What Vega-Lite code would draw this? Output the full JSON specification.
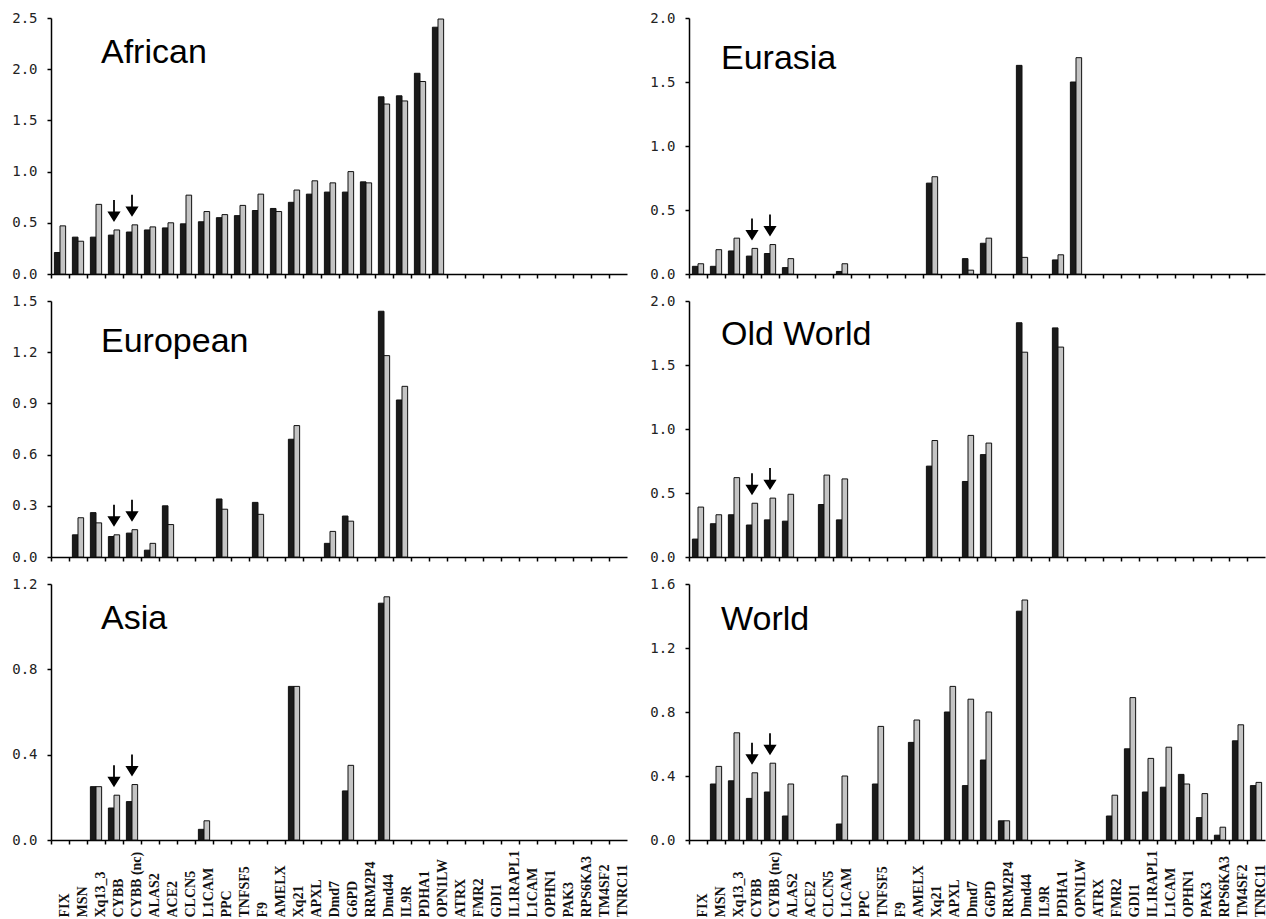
{
  "$schema": "https://vega.github.io/schema/vega-lite/v6.json",
  "padding": {"left": 11, "top": 11, "right": 0, "bottom": 0},
  "config": {
    "view": {"stroke": null},
    "axis": {"grid": false, "domainColor": "#000", "tickColor": "#000", "domainWidth": 1.5, "tickWidth": 1.5, "tickSize": 4},
    "axisY": {"labelFont": "DejaVu Sans Mono", "labelFontSize": 14, "labelColor": "#222", "labelPadding": 10}
  },
  "data": {"values": [
    {"p":"African","g":"FIX","s":"a","v":0.21},{"p":"African","g":"FIX","s":"b","v":0.47},
    {"p":"African","g":"MSN","s":"a","v":0.36},{"p":"African","g":"MSN","s":"b","v":0.32},
    {"p":"African","g":"Xq13_3","s":"a","v":0.36},{"p":"African","g":"Xq13_3","s":"b","v":0.68},
    {"p":"African","g":"CYBB","s":"a","v":0.38},{"p":"African","g":"CYBB","s":"b","v":0.43},
    {"p":"African","g":"CYBB (nc)","s":"a","v":0.41},{"p":"African","g":"CYBB (nc)","s":"b","v":0.48},
    {"p":"African","g":"ALAS2","s":"a","v":0.43},{"p":"African","g":"ALAS2","s":"b","v":0.46},
    {"p":"African","g":"ACE2","s":"a","v":0.45},{"p":"African","g":"ACE2","s":"b","v":0.50},
    {"p":"African","g":"CLCN5","s":"a","v":0.49},{"p":"African","g":"CLCN5","s":"b","v":0.77},
    {"p":"African","g":"L1CAM","s":"a","v":0.51},{"p":"African","g":"L1CAM","s":"b","v":0.61},
    {"p":"African","g":"PPC","s":"a","v":0.55},{"p":"African","g":"PPC","s":"b","v":0.58},
    {"p":"African","g":"TNFSF5","s":"a","v":0.57},{"p":"African","g":"TNFSF5","s":"b","v":0.67},
    {"p":"African","g":"F9","s":"a","v":0.62},{"p":"African","g":"F9","s":"b","v":0.78},
    {"p":"African","g":"AMELX","s":"a","v":0.64},{"p":"African","g":"AMELX","s":"b","v":0.61},
    {"p":"African","g":"Xq21","s":"a","v":0.70},{"p":"African","g":"Xq21","s":"b","v":0.82},
    {"p":"African","g":"APXL","s":"a","v":0.78},{"p":"African","g":"APXL","s":"b","v":0.91},
    {"p":"African","g":"Dmd7","s":"a","v":0.80},{"p":"African","g":"Dmd7","s":"b","v":0.89},
    {"p":"African","g":"G6PD","s":"a","v":0.80},{"p":"African","g":"G6PD","s":"b","v":1.00},
    {"p":"African","g":"RRM2P4","s":"a","v":0.90},{"p":"African","g":"RRM2P4","s":"b","v":0.89},
    {"p":"African","g":"Dmd44","s":"a","v":1.73},{"p":"African","g":"Dmd44","s":"b","v":1.66},
    {"p":"African","g":"IL9R","s":"a","v":1.74},{"p":"African","g":"IL9R","s":"b","v":1.69},
    {"p":"African","g":"PDHA1","s":"a","v":1.96},{"p":"African","g":"PDHA1","s":"b","v":1.88},
    {"p":"African","g":"OPN1LW","s":"a","v":2.41},{"p":"African","g":"OPN1LW","s":"b","v":2.49},

    {"p":"European","g":"MSN","s":"a","v":0.13},{"p":"European","g":"MSN","s":"b","v":0.23},
    {"p":"European","g":"Xq13_3","s":"a","v":0.26},{"p":"European","g":"Xq13_3","s":"b","v":0.20},
    {"p":"European","g":"CYBB","s":"a","v":0.12},{"p":"European","g":"CYBB","s":"b","v":0.13},
    {"p":"European","g":"CYBB (nc)","s":"a","v":0.14},{"p":"European","g":"CYBB (nc)","s":"b","v":0.16},
    {"p":"European","g":"ALAS2","s":"a","v":0.04},{"p":"European","g":"ALAS2","s":"b","v":0.08},
    {"p":"European","g":"ACE2","s":"a","v":0.30},{"p":"European","g":"ACE2","s":"b","v":0.19},
    {"p":"European","g":"PPC","s":"a","v":0.34},{"p":"European","g":"PPC","s":"b","v":0.28},
    {"p":"European","g":"F9","s":"a","v":0.32},{"p":"European","g":"F9","s":"b","v":0.25},
    {"p":"European","g":"Xq21","s":"a","v":0.69},{"p":"European","g":"Xq21","s":"b","v":0.77},
    {"p":"European","g":"Dmd7","s":"a","v":0.08},{"p":"European","g":"Dmd7","s":"b","v":0.15},
    {"p":"European","g":"G6PD","s":"a","v":0.24},{"p":"European","g":"G6PD","s":"b","v":0.21},
    {"p":"European","g":"Dmd44","s":"a","v":1.44},{"p":"European","g":"Dmd44","s":"b","v":1.18},
    {"p":"European","g":"IL9R","s":"a","v":0.92},{"p":"European","g":"IL9R","s":"b","v":1.00},

    {"p":"Asia","g":"Xq13_3","s":"a","v":0.25},{"p":"Asia","g":"Xq13_3","s":"b","v":0.25},
    {"p":"Asia","g":"CYBB","s":"a","v":0.15},{"p":"Asia","g":"CYBB","s":"b","v":0.21},
    {"p":"Asia","g":"CYBB (nc)","s":"a","v":0.18},{"p":"Asia","g":"CYBB (nc)","s":"b","v":0.26},
    {"p":"Asia","g":"L1CAM","s":"a","v":0.05},{"p":"Asia","g":"L1CAM","s":"b","v":0.09},
    {"p":"Asia","g":"Xq21","s":"a","v":0.72},{"p":"Asia","g":"Xq21","s":"b","v":0.72},
    {"p":"Asia","g":"G6PD","s":"a","v":0.23},{"p":"Asia","g":"G6PD","s":"b","v":0.35},
    {"p":"Asia","g":"Dmd44","s":"a","v":1.11},{"p":"Asia","g":"Dmd44","s":"b","v":1.14},

    {"p":"Eurasia","g":"FIX","s":"a","v":0.06},{"p":"Eurasia","g":"FIX","s":"b","v":0.08},
    {"p":"Eurasia","g":"MSN","s":"a","v":0.06},{"p":"Eurasia","g":"MSN","s":"b","v":0.19},
    {"p":"Eurasia","g":"Xq13_3","s":"a","v":0.18},{"p":"Eurasia","g":"Xq13_3","s":"b","v":0.28},
    {"p":"Eurasia","g":"CYBB","s":"a","v":0.14},{"p":"Eurasia","g":"CYBB","s":"b","v":0.20},
    {"p":"Eurasia","g":"CYBB (nc)","s":"a","v":0.16},{"p":"Eurasia","g":"CYBB (nc)","s":"b","v":0.23},
    {"p":"Eurasia","g":"ALAS2","s":"a","v":0.05},{"p":"Eurasia","g":"ALAS2","s":"b","v":0.12},
    {"p":"Eurasia","g":"L1CAM","s":"a","v":0.02},{"p":"Eurasia","g":"L1CAM","s":"b","v":0.08},
    {"p":"Eurasia","g":"Xq21","s":"a","v":0.71},{"p":"Eurasia","g":"Xq21","s":"b","v":0.76},
    {"p":"Eurasia","g":"Dmd7","s":"a","v":0.12},{"p":"Eurasia","g":"Dmd7","s":"b","v":0.03},
    {"p":"Eurasia","g":"G6PD","s":"a","v":0.24},{"p":"Eurasia","g":"G6PD","s":"b","v":0.28},
    {"p":"Eurasia","g":"Dmd44","s":"a","v":1.63},{"p":"Eurasia","g":"Dmd44","s":"b","v":0.13},
    {"p":"Eurasia","g":"PDHA1","s":"a","v":0.11},{"p":"Eurasia","g":"PDHA1","s":"b","v":0.15},
    {"p":"Eurasia","g":"OPN1LW","s":"a","v":1.50},{"p":"Eurasia","g":"OPN1LW","s":"b","v":1.69},

    {"p":"Old World","g":"FIX","s":"a","v":0.14},{"p":"Old World","g":"FIX","s":"b","v":0.39},
    {"p":"Old World","g":"MSN","s":"a","v":0.26},{"p":"Old World","g":"MSN","s":"b","v":0.33},
    {"p":"Old World","g":"Xq13_3","s":"a","v":0.33},{"p":"Old World","g":"Xq13_3","s":"b","v":0.62},
    {"p":"Old World","g":"CYBB","s":"a","v":0.25},{"p":"Old World","g":"CYBB","s":"b","v":0.42},
    {"p":"Old World","g":"CYBB (nc)","s":"a","v":0.29},{"p":"Old World","g":"CYBB (nc)","s":"b","v":0.46},
    {"p":"Old World","g":"ALAS2","s":"a","v":0.28},{"p":"Old World","g":"ALAS2","s":"b","v":0.49},
    {"p":"Old World","g":"CLCN5","s":"a","v":0.41},{"p":"Old World","g":"CLCN5","s":"b","v":0.64},
    {"p":"Old World","g":"L1CAM","s":"a","v":0.29},{"p":"Old World","g":"L1CAM","s":"b","v":0.61},
    {"p":"Old World","g":"Xq21","s":"a","v":0.71},{"p":"Old World","g":"Xq21","s":"b","v":0.91},
    {"p":"Old World","g":"Dmd7","s":"a","v":0.59},{"p":"Old World","g":"Dmd7","s":"b","v":0.95},
    {"p":"Old World","g":"G6PD","s":"a","v":0.80},{"p":"Old World","g":"G6PD","s":"b","v":0.89},
    {"p":"Old World","g":"Dmd44","s":"a","v":1.83},{"p":"Old World","g":"Dmd44","s":"b","v":1.60},
    {"p":"Old World","g":"PDHA1","s":"a","v":1.79},{"p":"Old World","g":"PDHA1","s":"b","v":1.64},

    {"p":"World","g":"MSN","s":"a","v":0.35},{"p":"World","g":"MSN","s":"b","v":0.46},
    {"p":"World","g":"Xq13_3","s":"a","v":0.37},{"p":"World","g":"Xq13_3","s":"b","v":0.67},
    {"p":"World","g":"CYBB","s":"a","v":0.26},{"p":"World","g":"CYBB","s":"b","v":0.42},
    {"p":"World","g":"CYBB (nc)","s":"a","v":0.30},{"p":"World","g":"CYBB (nc)","s":"b","v":0.48},
    {"p":"World","g":"ALAS2","s":"a","v":0.15},{"p":"World","g":"ALAS2","s":"b","v":0.35},
    {"p":"World","g":"L1CAM","s":"a","v":0.10},{"p":"World","g":"L1CAM","s":"b","v":0.40},
    {"p":"World","g":"TNFSF5","s":"a","v":0.35},{"p":"World","g":"TNFSF5","s":"b","v":0.71},
    {"p":"World","g":"AMELX","s":"a","v":0.61},{"p":"World","g":"AMELX","s":"b","v":0.75},
    {"p":"World","g":"APXL","s":"a","v":0.80},{"p":"World","g":"APXL","s":"b","v":0.96},
    {"p":"World","g":"Dmd7","s":"a","v":0.34},{"p":"World","g":"Dmd7","s":"b","v":0.88},
    {"p":"World","g":"G6PD","s":"a","v":0.50},{"p":"World","g":"G6PD","s":"b","v":0.80},
    {"p":"World","g":"RRM2P4","s":"a","v":0.12},{"p":"World","g":"RRM2P4","s":"b","v":0.12},
    {"p":"World","g":"Dmd44","s":"a","v":1.43},{"p":"World","g":"Dmd44","s":"b","v":1.50},
    {"p":"World","g":"FMR2","s":"a","v":0.15},{"p":"World","g":"FMR2","s":"b","v":0.28},
    {"p":"World","g":"GDI1","s":"a","v":0.57},{"p":"World","g":"GDI1","s":"b","v":0.89},
    {"p":"World","g":"IL1RAPL1","s":"a","v":0.30},{"p":"World","g":"IL1RAPL1","s":"b","v":0.51},
    {"p":"World","g":"L1CAM ","s":"a","v":0.33},{"p":"World","g":"L1CAM ","s":"b","v":0.58},
    {"p":"World","g":"OPHN1","s":"a","v":0.41},{"p":"World","g":"OPHN1","s":"b","v":0.35},
    {"p":"World","g":"PAK3","s":"a","v":0.14},{"p":"World","g":"PAK3","s":"b","v":0.29},
    {"p":"World","g":"RPS6KA3","s":"a","v":0.03},{"p":"World","g":"RPS6KA3","s":"b","v":0.08},
    {"p":"World","g":"TM4SF2","s":"a","v":0.62},{"p":"World","g":"TM4SF2","s":"b","v":0.72},
    {"p":"World","g":"TNRC11","s":"a","v":0.34},{"p":"World","g":"TNRC11","s":"b","v":0.36}
  ]},
  "columns": 2,
  "bounds": "flush",
  "spacing": {"row": 27, "column": 62},
  "concat": [
    {"width": 576, "height": 256, "layer": [
      {"transform": [{"filter": "datum.p === 'African'"}],
       "mark": {"type": "bar", "stroke": "#111", "strokeWidth": 1},
       "encoding": {
         "x": {"field": "g", "type": "nominal", "title": null,
               "scale": {"domain": ["FIX","MSN","Xq13_3","CYBB","CYBB (nc)","ALAS2","ACE2","CLCN5","L1CAM","PPC","TNFSF5","F9","AMELX","Xq21","APXL","Dmd7","G6PD","RRM2P4","Dmd44","IL9R","PDHA1","OPN1LW","ATRX","FMR2","GDI1","IL1RAPL1","L1CAM ","OPHN1","PAK3","RPS6KA3","TM4SF2","TNRC11"], "paddingInner": 0, "paddingOuter": 0},
               "axis": {"labels": false, "bandPosition": 0}},
         "xOffset": {"field": "s", "type": "nominal", "scale": {"domain": ["a","b"], "paddingInner": 0, "paddingOuter": 0.6}},
         "y": {"field": "v", "type": "quantitative", "title": null, "scale": {"domain": [0, 2.5], "nice": false},
               "axis": {"values": [0, 0.5, 1, 1.5, 2, 2.5], "format": ".1f"}},
         "color": {"field": "s", "type": "nominal", "scale": {"domain": ["a","b"], "range": ["#1a1a1a", "#c4c4c4"]}, "legend": null}
       }},
      {"transform": [{"filter": "datum.p === 'African'"}, {"filter": {"field": "g", "oneOf": ["CYBB", "CYBB (nc)"]}}, {"aggregate": [{"op": "max", "field": "v", "as": "m"}], "groupby": ["g"]}],
       "mark": {"type": "point", "shape": "M-0.08,-1L0.08,-1L0.08,0.05L0.6,0.05L0,1L-0.6,0.05L-0.08,0.05Z", "size": 484, "filled": true, "color": "#000", "opacity": 1, "yOffset": -19},
       "encoding": {"x": {"field": "g", "type": "nominal"}, "y": {"field": "m", "type": "quantitative"}}},
      {"data": {"values": [{"t": "African"}]},
       "mark": {"type": "text", "align": "left", "baseline": "alphabetic", "font": "Liberation Sans", "fontSize": 34, "dx": 5, "color": "#000"},
       "encoding": {"text": {"field": "t"}, "x": {"datum": "Xq13_3"}, "y": {"datum": 2.06}}}
    ]},
    {"width": 576, "height": 256, "layer": [
      {"transform": [{"filter": "datum.p === 'Eurasia'"}],
       "mark": {"type": "bar", "stroke": "#111", "strokeWidth": 1},
       "encoding": {
         "x": {"field": "g", "type": "nominal", "title": null,
               "scale": {"domain": ["FIX","MSN","Xq13_3","CYBB","CYBB (nc)","ALAS2","ACE2","CLCN5","L1CAM","PPC","TNFSF5","F9","AMELX","Xq21","APXL","Dmd7","G6PD","RRM2P4","Dmd44","IL9R","PDHA1","OPN1LW","ATRX","FMR2","GDI1","IL1RAPL1","L1CAM ","OPHN1","PAK3","RPS6KA3","TM4SF2","TNRC11"], "paddingInner": 0, "paddingOuter": 0},
               "axis": {"labels": false, "bandPosition": 0}},
         "xOffset": {"field": "s", "type": "nominal", "scale": {"domain": ["a","b"], "paddingInner": 0, "paddingOuter": 0.6}},
         "y": {"field": "v", "type": "quantitative", "title": null, "scale": {"domain": [0, 2], "nice": false},
               "axis": {"values": [0, 0.5, 1, 1.5, 2], "format": ".1f"}},
         "color": {"field": "s", "type": "nominal", "scale": {"domain": ["a","b"], "range": ["#1a1a1a", "#c4c4c4"]}, "legend": null}
       }},
      {"transform": [{"filter": "datum.p === 'Eurasia'"}, {"filter": {"field": "g", "oneOf": ["CYBB", "CYBB (nc)"]}}, {"aggregate": [{"op": "max", "field": "v", "as": "m"}], "groupby": ["g"]}],
       "mark": {"type": "point", "shape": "M-0.08,-1L0.08,-1L0.08,0.05L0.6,0.05L0,1L-0.6,0.05L-0.08,0.05Z", "size": 484, "filled": true, "color": "#000", "opacity": 1, "yOffset": -19},
       "encoding": {"x": {"field": "g", "type": "nominal"}, "y": {"field": "m", "type": "quantitative"}}},
      {"data": {"values": [{"t": "Eurasia"}]},
       "mark": {"type": "text", "align": "left", "baseline": "alphabetic", "font": "Liberation Sans", "fontSize": 34, "dx": 5, "color": "#000"},
       "encoding": {"text": {"field": "t"}, "x": {"datum": "MSN"}, "y": {"datum": 1.6}}}
    ]},
    {"width": 576, "height": 256, "layer": [
      {"transform": [{"filter": "datum.p === 'European'"}],
       "mark": {"type": "bar", "stroke": "#111", "strokeWidth": 1},
       "encoding": {
         "x": {"field": "g", "type": "nominal", "title": null,
               "scale": {"domain": ["FIX","MSN","Xq13_3","CYBB","CYBB (nc)","ALAS2","ACE2","CLCN5","L1CAM","PPC","TNFSF5","F9","AMELX","Xq21","APXL","Dmd7","G6PD","RRM2P4","Dmd44","IL9R","PDHA1","OPN1LW","ATRX","FMR2","GDI1","IL1RAPL1","L1CAM ","OPHN1","PAK3","RPS6KA3","TM4SF2","TNRC11"], "paddingInner": 0, "paddingOuter": 0},
               "axis": {"labels": false, "bandPosition": 0}},
         "xOffset": {"field": "s", "type": "nominal", "scale": {"domain": ["a","b"], "paddingInner": 0, "paddingOuter": 0.6}},
         "y": {"field": "v", "type": "quantitative", "title": null, "scale": {"domain": [0, 1.5], "nice": false},
               "axis": {"values": [0, 0.3, 0.6, 0.9, 1.2, 1.5], "format": ".1f"}},
         "color": {"field": "s", "type": "nominal", "scale": {"domain": ["a","b"], "range": ["#1a1a1a", "#c4c4c4"]}, "legend": null}
       }},
      {"transform": [{"filter": "datum.p === 'European'"}, {"filter": {"field": "g", "oneOf": ["CYBB", "CYBB (nc)"]}}, {"aggregate": [{"op": "max", "field": "v", "as": "m"}], "groupby": ["g"]}],
       "mark": {"type": "point", "shape": "M-0.08,-1L0.08,-1L0.08,0.05L0.6,0.05L0,1L-0.6,0.05L-0.08,0.05Z", "size": 484, "filled": true, "color": "#000", "opacity": 1, "yOffset": -19},
       "encoding": {"x": {"field": "g", "type": "nominal"}, "y": {"field": "m", "type": "quantitative"}}},
      {"data": {"values": [{"t": "European"}]},
       "mark": {"type": "text", "align": "left", "baseline": "alphabetic", "font": "Liberation Sans", "fontSize": 34, "dx": 5, "color": "#000"},
       "encoding": {"text": {"field": "t"}, "x": {"datum": "Xq13_3"}, "y": {"datum": 1.2}}}
    ]},
    {"width": 576, "height": 256, "layer": [
      {"transform": [{"filter": "datum.p === 'Old World'"}],
       "mark": {"type": "bar", "stroke": "#111", "strokeWidth": 1},
       "encoding": {
         "x": {"field": "g", "type": "nominal", "title": null,
               "scale": {"domain": ["FIX","MSN","Xq13_3","CYBB","CYBB (nc)","ALAS2","ACE2","CLCN5","L1CAM","PPC","TNFSF5","F9","AMELX","Xq21","APXL","Dmd7","G6PD","RRM2P4","Dmd44","IL9R","PDHA1","OPN1LW","ATRX","FMR2","GDI1","IL1RAPL1","L1CAM ","OPHN1","PAK3","RPS6KA3","TM4SF2","TNRC11"], "paddingInner": 0, "paddingOuter": 0},
               "axis": {"labels": false, "bandPosition": 0}},
         "xOffset": {"field": "s", "type": "nominal", "scale": {"domain": ["a","b"], "paddingInner": 0, "paddingOuter": 0.6}},
         "y": {"field": "v", "type": "quantitative", "title": null, "scale": {"domain": [0, 2], "nice": false},
               "axis": {"values": [0, 0.5, 1, 1.5, 2], "format": ".1f"}},
         "color": {"field": "s", "type": "nominal", "scale": {"domain": ["a","b"], "range": ["#1a1a1a", "#c4c4c4"]}, "legend": null}
       }},
      {"transform": [{"filter": "datum.p === 'Old World'"}, {"filter": {"field": "g", "oneOf": ["CYBB", "CYBB (nc)"]}}, {"aggregate": [{"op": "max", "field": "v", "as": "m"}], "groupby": ["g"]}],
       "mark": {"type": "point", "shape": "M-0.08,-1L0.08,-1L0.08,0.05L0.6,0.05L0,1L-0.6,0.05L-0.08,0.05Z", "size": 484, "filled": true, "color": "#000", "opacity": 1, "yOffset": -19},
       "encoding": {"x": {"field": "g", "type": "nominal"}, "y": {"field": "m", "type": "quantitative"}}},
      {"data": {"values": [{"t": "Old World"}]},
       "mark": {"type": "text", "align": "left", "baseline": "alphabetic", "font": "Liberation Sans", "fontSize": 34, "dx": 5, "color": "#000"},
       "encoding": {"text": {"field": "t"}, "x": {"datum": "MSN"}, "y": {"datum": 1.66}}}
    ]},
    {"width": 576, "height": 256, "layer": [
      {"transform": [{"filter": "datum.p === 'Asia'"}],
       "mark": {"type": "bar", "stroke": "#111", "strokeWidth": 1},
       "encoding": {
         "x": {"field": "g", "type": "nominal", "title": null,
               "scale": {"domain": ["FIX","MSN","Xq13_3","CYBB","CYBB (nc)","ALAS2","ACE2","CLCN5","L1CAM","PPC","TNFSF5","F9","AMELX","Xq21","APXL","Dmd7","G6PD","RRM2P4","Dmd44","IL9R","PDHA1","OPN1LW","ATRX","FMR2","GDI1","IL1RAPL1","L1CAM ","OPHN1","PAK3","RPS6KA3","TM4SF2","TNRC11"], "paddingInner": 0, "paddingOuter": 0},
               "axis": {"bandPosition": 0, "labelAngle": -90, "labelAlign": "left", "labelBaseline": "middle", "labelPadding": 73, "labelOffset": 5, "labelFont": "Liberation Serif", "labelFontSize": 14, "labelFontWeight": "bold", "labelColor": "#111"}},
         "xOffset": {"field": "s", "type": "nominal", "scale": {"domain": ["a","b"], "paddingInner": 0, "paddingOuter": 0.6}},
         "y": {"field": "v", "type": "quantitative", "title": null, "scale": {"domain": [0, 1.2], "nice": false},
               "axis": {"values": [0, 0.4, 0.8, 1.2], "format": ".1f"}},
         "color": {"field": "s", "type": "nominal", "scale": {"domain": ["a","b"], "range": ["#1a1a1a", "#c4c4c4"]}, "legend": null}
       }},
      {"transform": [{"filter": "datum.p === 'Asia'"}, {"filter": {"field": "g", "oneOf": ["CYBB", "CYBB (nc)"]}}, {"aggregate": [{"op": "max", "field": "v", "as": "m"}], "groupby": ["g"]}],
       "mark": {"type": "point", "shape": "M-0.08,-1L0.08,-1L0.08,0.05L0.6,0.05L0,1L-0.6,0.05L-0.08,0.05Z", "size": 484, "filled": true, "color": "#000", "opacity": 1, "yOffset": -19},
       "encoding": {"x": {"field": "g", "type": "nominal"}, "y": {"field": "m", "type": "quantitative"}}},
      {"data": {"values": [{"t": "Asia"}]},
       "mark": {"type": "text", "align": "left", "baseline": "alphabetic", "font": "Liberation Sans", "fontSize": 34, "dx": 5, "color": "#000"},
       "encoding": {"text": {"field": "t"}, "x": {"datum": "Xq13_3"}, "y": {"datum": 0.99}}}
    ]},
    {"width": 576, "height": 256, "layer": [
      {"transform": [{"filter": "datum.p === 'World'"}],
       "mark": {"type": "bar", "stroke": "#111", "strokeWidth": 1},
       "encoding": {
         "x": {"field": "g", "type": "nominal", "title": null,
               "scale": {"domain": ["FIX","MSN","Xq13_3","CYBB","CYBB (nc)","ALAS2","ACE2","CLCN5","L1CAM","PPC","TNFSF5","F9","AMELX","Xq21","APXL","Dmd7","G6PD","RRM2P4","Dmd44","IL9R","PDHA1","OPN1LW","ATRX","FMR2","GDI1","IL1RAPL1","L1CAM ","OPHN1","PAK3","RPS6KA3","TM4SF2","TNRC11"], "paddingInner": 0, "paddingOuter": 0},
               "axis": {"bandPosition": 0, "labelAngle": -90, "labelAlign": "left", "labelBaseline": "middle", "labelPadding": 73, "labelOffset": 5, "labelFont": "Liberation Serif", "labelFontSize": 14, "labelFontWeight": "bold", "labelColor": "#111"}},
         "xOffset": {"field": "s", "type": "nominal", "scale": {"domain": ["a","b"], "paddingInner": 0, "paddingOuter": 0.6}},
         "y": {"field": "v", "type": "quantitative", "title": null, "scale": {"domain": [0, 1.6], "nice": false},
               "axis": {"values": [0, 0.4, 0.8, 1.2, 1.6], "format": ".1f"}},
         "color": {"field": "s", "type": "nominal", "scale": {"domain": ["a","b"], "range": ["#1a1a1a", "#c4c4c4"]}, "legend": null}
       }},
      {"transform": [{"filter": "datum.p === 'World'"}, {"filter": {"field": "g", "oneOf": ["CYBB", "CYBB (nc)"]}}, {"aggregate": [{"op": "max", "field": "v", "as": "m"}], "groupby": ["g"]}],
       "mark": {"type": "point", "shape": "M-0.08,-1L0.08,-1L0.08,0.05L0.6,0.05L0,1L-0.6,0.05L-0.08,0.05Z", "size": 484, "filled": true, "color": "#000", "opacity": 1, "yOffset": -19},
       "encoding": {"x": {"field": "g", "type": "nominal"}, "y": {"field": "m", "type": "quantitative"}}},
      {"data": {"values": [{"t": "World"}]},
       "mark": {"type": "text", "align": "left", "baseline": "alphabetic", "font": "Liberation Sans", "fontSize": 34, "dx": 5, "color": "#000"},
       "encoding": {"text": {"field": "t"}, "x": {"datum": "MSN"}, "y": {"datum": 1.31}}}
    ]}
  ]
}
